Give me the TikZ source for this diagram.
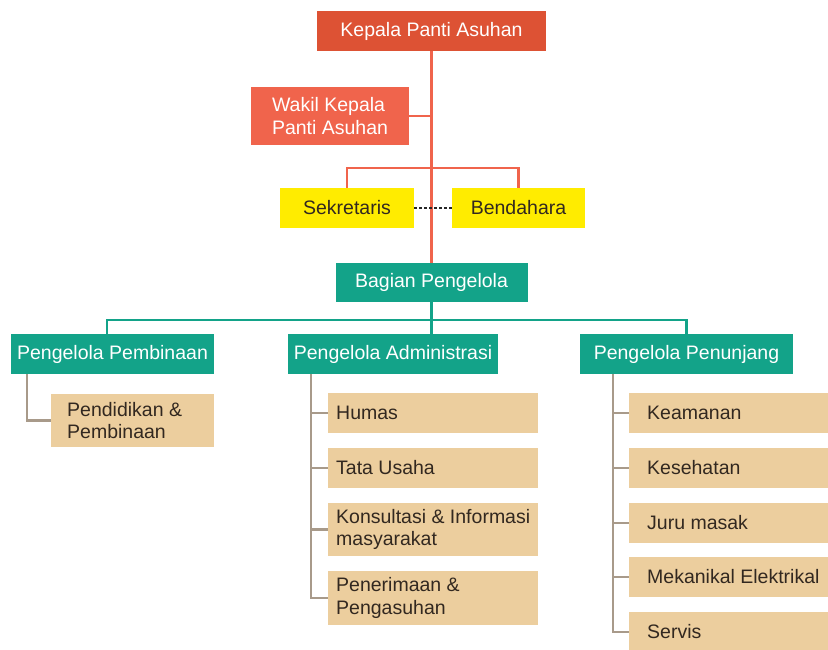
\documentclass[tikz,border=0pt]{standalone}
\usepackage{fontspec}
\setmainfont{Liberation Sans}
\definecolor{kred}{RGB}{221,82,52}
\definecolor{wred}{RGB}{240,100,76}
\definecolor{kyel}{RGB}{255,236,0}
\definecolor{kteal}{RGB}{19,163,137}
\definecolor{ktan}{RGB}{236,206,158}
\definecolor{kbrown}{RGB}{168,154,138}
\definecolor{ktext}{RGB}{50,40,32}
\begin{document}
\begin{tikzpicture}[x=1pt,y=-1pt,
  every node/.style={font=\fontsize{19.5}{22.5}\selectfont},
  box/.style={rectangle, inner sep=0pt, outer sep=0pt},
  redbox/.style={box, fill=kred, text=white},
  wbox/.style={box, fill=wred, text=white, align=left},
  ybox/.style={box, fill=kyel, text=ktext},
  tbox/.style={box, fill=kteal, text=white},
  tanbox/.style={box, fill=ktan, anchor=north west},
  tantext/.style={anchor=west, text=ktext, align=left, inner sep=0pt},
  redline/.style={draw=wred, line width=2.2pt},
  tealline/.style={draw=kteal, line width=2.4pt},
  brownline/.style={draw=kbrown, line width=2.4pt},
  dashline/.style={draw=black!85, line width=1.8pt, dashed, dash pattern=on 3pt off 2pt}
]
\useasboundingbox[fill=white] (0,0) rectangle (828,650);

% connectors first (behind boxes)
\node[redbox, minimum width=229pt, minimum height=40pt] (kepala) at (431.5,31) {Kepala Panti Asuhan};
\node[wbox, minimum width=158pt, minimum height=58pt] (wakil) at (330,116) {Wakil Kepala\\Panti Asuhan};
\node[ybox, minimum width=134pt, minimum height=40pt] (sek) at (347,208) {Sekretaris};
\node[ybox, minimum width=133pt, minimum height=40pt] (ben) at (518.5,208) {Bendahara};
\node[tbox, minimum width=192pt, minimum height=39pt] (bagian) at (431.5,282.5) {Bagian Pengelola};
\node[tbox, minimum width=203pt, minimum height=40pt] (pemb) at (112.5,354) {Pengelola Pembinaan};
\node[tbox, minimum width=210pt, minimum height=40pt] (adm) at (393,354) {Pengelola Administrasi};
\node[tbox, minimum width=213pt, minimum height=40pt] (pen) at (686.5,354) {Pengelola Penunjang};

% sub boxes
\node[tanbox, minimum width=163pt, minimum height=53pt] (pend) at (51,394) {};
\node[tantext] (pendT) at ([xshift=16pt]pend.west) {Pendidikan \&\\Pembinaan};

\node[tanbox, minimum width=210pt, minimum height=40pt] (humas) at (328,393) {};
\node[tantext] (humasT) at ([xshift=8pt]humas.west) {Humas};
\node[tanbox, minimum width=210pt, minimum height=40pt] (tata) at (328,448) {};
\node[tantext] (tataT) at ([xshift=8pt]tata.west) {Tata Usaha};
\node[tanbox, minimum width=210pt, minimum height=53pt] (kons) at (328,503) {};
\node[tantext] (konsT) at ([xshift=8pt]kons.west) {Konsultasi \& Informasi\\masyarakat};
\node[tanbox, minimum width=210pt, minimum height=54pt] (pener) at (328,571) {};
\node[tantext] (penerT) at ([xshift=8pt]pener.west) {Penerimaan \&\\Pengasuhan};

\node[tanbox, minimum width=200pt, minimum height=40pt] (keam) at (629,393) {};
\node[tantext] (keamT) at ([xshift=18pt]keam.west) {Keamanan};
\node[tanbox, minimum width=200pt, minimum height=40pt] (kes) at (629,448) {};
\node[tantext] (kesT) at ([xshift=18pt]kes.west) {Kesehatan};
\node[tanbox, minimum width=200pt, minimum height=40pt] (juru) at (629,503) {};
\node[tantext] (juruT) at ([xshift=18pt]juru.west) {Juru masak};
\node[tanbox, minimum width=200pt, minimum height=40pt] (mek) at (629,557) {};
\node[tantext] (mekT) at ([xshift=18pt]mek.west) {Mekanikal Elektrikal};
\node[tanbox, minimum width=200pt, minimum height=40pt] (serv) at (629,612) {};
\node[tantext] (servT) at ([xshift=18pt]serv.west) {Servis};

\begin{scope}[on background layer/.try]
\end{scope}

% red connectors
\path[redline] (kepala.south) -- (bagian.north);
\path[redline] (wakil.east) -- (wakil.east -| kepala.south);
\path[redline] (sek.north) -- ++(0,-20) -| (ben.north);
\path[dashline] (sek.east) -- (ben.west);

% teal connectors
\coordinate (hb) at (431.5,320);
\path[tealline] (bagian.south) -- (bagian.south |- adm.north);
\path[tealline] ([xshift=-5.5pt]pemb.north) |- (hb) -| (pen.north);

% brown connectors
\coordinate (p0) at (27,374);
\coordinate (a0) at (311,374);
\coordinate (q0) at (613,374);
\path[brownline] (p0) |- (pend.west);
\path[brownline] (a0) |- (pener.west);
\path[brownline] (a0 |- humas.west) -- (humas.west);
\path[brownline] (a0 |- tata.west) -- (tata.west);
\path[brownline] (a0 |- kons.west) -- (kons.west);
\path[brownline] (q0) |- (serv.west);
\path[brownline] (q0 |- keam.west) -- (keam.west);
\path[brownline] (q0 |- kes.west) -- (kes.west);
\path[brownline] (q0 |- juru.west) -- (juru.west);
\path[brownline] (q0 |- mek.west) -- (mek.west);
\end{tikzpicture}
\end{document}
